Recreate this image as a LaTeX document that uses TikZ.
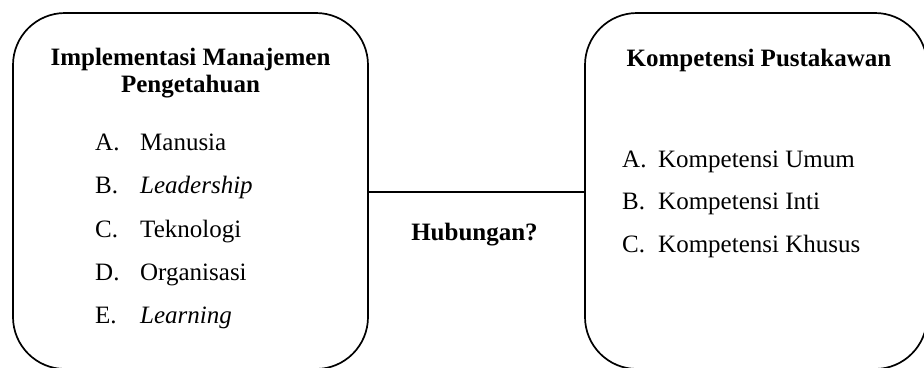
\documentclass[tikz,border=0pt]{standalone}
\usepackage{fontspec}
\setmainfont{Liberation Serif}[
  BoldFont={Liberation Serif Bold},
  ItalicFont={Liberation Serif Italic},
  BoldItalicFont={Liberation Serif Bold Italic}]
\begin{document}
\begin{tikzpicture}[x=1pt,y=-1pt,
  panel/.style={draw=black,line width=1.7pt,rounded corners=52pt,inner sep=0pt},
  txt/.style={inner sep=0pt,font=\fontsize{25}{27}\selectfont},
  ttl/.style={txt,font=\fontsize{25}{27}\selectfont\bfseries},
  link/.style={draw=black,line width=1.7pt}]
\useasboundingbox (0,0) rectangle (924,367);
\clip (0,0) rectangle (924,367);
% panels
\node[panel,minimum width=355pt,minimum height=356pt] (L) at (190.5,191) {};
\node[panel,minimum width=342pt,minimum height=356pt] (R) at (756,191) {};
% connector
\coordinate (La) at (368,192);
\coordinate (Rb) at (585,192);
\draw[link] (La) -- (Rb);
\node[ttl,anchor=base] (hub) at (474.5,240) {Hubungan?};
% left panel
\node[ttl,anchor=base] (lt1) at (190.5,65) {Implementasi Manajemen};
\node[ttl,anchor=base] (lt2) at (190.5,92) {Pengetahuan};
\node[txt,anchor=base west] (la) at (95,150) {\makebox[45pt][l]{A.}Manusia};
\node[txt,anchor=base west] (lb) at (95,193) {\makebox[45pt][l]{B.}\textit{Leadership}};
\node[txt,anchor=base west] (lc) at (95,237) {\makebox[45pt][l]{C.}Teknologi};
\node[txt,anchor=base west] (ld) at (95,280) {\makebox[45pt][l]{D.}Organisasi};
\node[txt,anchor=base west] (le) at (95,323) {\makebox[45pt][l]{E.}\textit{Learning}};
% right panel
\node[ttl,anchor=base] (rt) at (759,66) {Kompetensi Pustakawan};
\node[txt,anchor=base west] (ra) at (622,167) {\makebox[36pt][l]{A.}Kompetensi Umum};
\node[txt,anchor=base west] (rb) at (622,209) {\makebox[36pt][l]{B.}Kompetensi Inti};
\node[txt,anchor=base west] (rc) at (622,252) {\makebox[36pt][l]{C.}Kompetensi Khusus};
\end{tikzpicture}
\end{document}
